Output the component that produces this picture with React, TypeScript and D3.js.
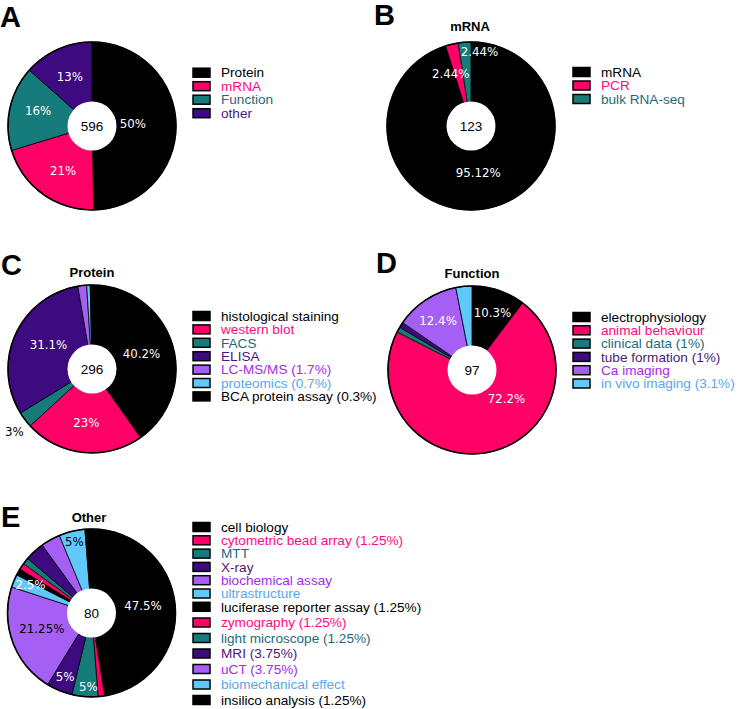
import React from "react";
import * as d3 from "d3";

// ---------- colours ----------
const BLACK = "#000000";
const PINK = "#FF0066";
const TEAL = "#167B7B";
const PURPLE = "#3E0A80";
const LILAC = "#A55FF5";
const SKY = "#61C9F9";
const T_BLACK = "#000000";
const T_PINK = "#FF0A80";
const T_TEAL = "#1D6B7A";
const T_PURPLE = "#4B1A75";
const T_LILAC = "#A62AE6";
const T_SKY = "#5AA6EE";

// ---------- Panel A ----------
const aCategories = ["Protein", "mRNA", "Function", "other"];
const aValues = [296, 123, 97, 80];
const aSliceLabels = ["50%", "21%", "16%", "13%"];
const aFills = [BLACK, PINK, TEAL, PURPLE];
const aTextColors = [T_BLACK, T_PINK, T_TEAL, T_PURPLE];

// ---------- Panel B ----------
const bCategories = ["mRNA", "PCR", "bulk RNA-seq"];
const bValues = [117, 3, 3];
const bSliceLabels = ["95.12%", "2.44%", "2.44%"];
const bFills = [BLACK, PINK, TEAL];
const bTextColors = [T_BLACK, T_PINK, T_TEAL];

// ---------- Panel C ----------
const cCategories = [
  "histological staining",
  "western blot",
  "FACS",
  "ELISA",
  "LC-MS/MS (1.7%)",
  "proteomics (0.7%)",
  "BCA protein assay (0.3%)",
];
const cValues = [119, 68, 9, 92, 5, 2, 1];
const cSliceLabels = ["40.2%", "23%", "3%", "31.1%", "", "", ""];
const cFills = [BLACK, PINK, TEAL, PURPLE, LILAC, SKY, BLACK];
const cTextColors = [T_BLACK, T_PINK, T_TEAL, T_PURPLE, T_LILAC, T_SKY, T_BLACK];

// ---------- Panel D ----------
const dCategories = [
  "electrophysiology",
  "animal behaviour",
  "clinical data (1%)",
  "tube formation (1%)",
  "Ca imaging",
  "in vivo imaging (3.1%)",
];
const dValues = [10, 70, 1, 1, 12, 3];
const dSliceLabels = ["10.3%", "72.2%", "", "", "12.4%", ""];
const dFills = [BLACK, PINK, TEAL, PURPLE, LILAC, SKY];
const dTextColors = [T_BLACK, T_PINK, T_TEAL, T_PURPLE, T_LILAC, T_SKY];

// ---------- Panel E ----------
const eCategories = [
  "cell biology",
  "cytometric bead array (1.25%)",
  "MTT",
  "X-ray",
  "biochemical assay",
  "ultrastructure",
  "luciferase reporter assay (1.25%)",
  "zymography (1.25%)",
  "light microscope (1.25%)",
  "MRI (3.75%)",
  "uCT (3.75%)",
  "biomechanical effect",
  "insilico analysis (1.25%)",
];
const eValues = [38, 1, 4, 4, 17, 2, 1, 1, 1, 3, 3, 4, 1];
const eSliceLabels = ["47.5%", "", "5%", "5%", "21.25%", "2.5%", "", "", "", "", "", "5%", ""];
const eFills = [BLACK, PINK, TEAL, PURPLE, LILAC, SKY, BLACK, PINK, TEAL, PURPLE, LILAC, SKY, BLACK];
const eTextColors = [
  T_BLACK, T_PINK, T_TEAL, T_PURPLE, T_LILAC, T_SKY,
  T_BLACK, T_PINK, T_TEAL, T_PURPLE, T_LILAC, T_SKY, T_BLACK,
];

// ---------- layout ----------
const R = 84;
const HOLE = 24.5;

type LabelPlace = { r: number; dAngle?: number; color?: string };

interface PieProps {
  cx: number;
  cy: number;
  values: number[];
  fills: string[];
  sliceLabels: string[];
  place: (LabelPlace | null)[];
}

function Pie({ cx, cy, values, fills, sliceLabels, place }: PieProps) {
  const arcs = d3.pie<number>().sort(null).value((d) => d)(values);
  const arcGen = d3.arc<d3.PieArcDatum<number>>().innerRadius(0).outerRadius(R);
  const total = d3.sum(values);
  return (
    <g transform={`translate(${cx},${cy})`}>
      {arcs.map((a, i) => (
        <path key={i} d={arcGen(a) || ""} fill={fills[i]} stroke="#000" strokeWidth={0.8} />
      ))}
      <circle r={R} fill="none" stroke="#000" strokeWidth={1.6} />
      <circle r={HOLE} fill="#fff" />
      <text
        textAnchor="middle"
        dy="0.36em"
        fontFamily="'Liberation Sans', Arial, sans-serif"
        fontSize={13.5}
        fill="#000"
      >
        {total}
      </text>
      {arcs.map((a, i) => {
        const p = place[i];
        if (!p || !sliceLabels[i]) return null;
        const ang = (a.startAngle + a.endAngle) / 2 + ((p.dAngle || 0) * Math.PI) / 180;
        const x = p.r * Math.sin(ang);
        const y = -p.r * Math.cos(ang);
        return (
          <text
            key={"l" + i}
            x={x}
            y={y}
            dy="0.36em"
            textAnchor="middle"
            fontFamily="'DejaVu Sans', Verdana, sans-serif"
            fontSize={11.8}
            fill={p.color || "#fff"}
          >
            {sliceLabels[i]}
          </text>
        );
      })}
    </g>
  );
}

interface LegendProps {
  x: number;
  rows: number[];
  categories: string[];
  fills: string[];
  textColors: string[];
}

function Legend({ x, rows, categories, fills, textColors }: LegendProps) {
  return (
    <g>
      {categories.map((c, i) => (
        <g key={i} transform={`translate(${x},${rows[i]})`}>
          <rect x={0} y={-4.5} width={17} height={9} fill={fills[i]} stroke="#000" strokeWidth={1.5} />
          <text
            x={28}
            y={0}
            dy="0.35em"
            fontFamily="'Liberation Sans', Arial, sans-serif"
            fontSize={13.6}
            fill={textColors[i]}
          >
            {c}
          </text>
        </g>
      ))}
    </g>
  );
}

const rowsFrom = (start: number, step: number, n: number) => d3.range(n).map((i) => start + step * i);

function PanelLetter({ x, y, t }: { x: number; y: number; t: string }) {
  return (
    <text x={x} y={y} fontFamily="'Liberation Sans', Arial, sans-serif" fontWeight="bold" fontSize={29}>
      {t}
    </text>
  );
}

function Title({ x, y, t }: { x: number; y: number; t: string }) {
  return (
    <text x={x} y={y} textAnchor="middle" fontFamily="'Liberation Sans', Arial, sans-serif" fontWeight="bold" fontSize={13}>
      {t}
    </text>
  );
}

export default function App() {
  const eRows = d3.range(eCategories.length).map((i) => (i <= 6 ? 527 + 13.3 * i : 607 + 15.5 * (i - 6)));
  return (
    <svg
      width={739}
      height={709}
      style={{ position: "absolute", left: 0, top: 0, background: "#fff" }}
    >
      {/* A */}
      <PanelLetter x={0} y={27} t="A" />
      <Pie
        cx={92}
        cy={126}
        values={aValues}
        fills={aFills}
        sliceLabels={aSliceLabels}
        place={[{ r: 41, dAngle: -2 }, { r: 53, dAngle: -3 }, { r: 56, dAngle: 3 }, { r: 54 }]}
      />
      <Legend x={193} rows={rowsFrom(72.7, 13.5, 4)} categories={aCategories} fills={aFills} textColors={aTextColors} />

      {/* B */}
      <PanelLetter x={374} y={25} t="B" />
      <Title x={470} y={31} t="mRNA" />
      <Pie
        cx={471}
        cy={126}
        values={bValues}
        fills={bFills}
        sliceLabels={bSliceLabels}
        place={[{ r: 47 }, { r: 56, dAngle: -8 }, { r: 74.5, dAngle: 11 }]}
      />
      <Legend x={573} rows={rowsFrom(72, 13.5, 3)} categories={bCategories} fills={bFills} textColors={bTextColors} />

      {/* C */}
      <PanelLetter x={1} y={275} t="C" />
      <Title x={92} y={277} t="Protein" />
      <Pie
        cx={92}
        cy={369}
        values={cValues}
        fills={cFills}
        sliceLabels={cSliceLabels}
        place={[{ r: 52 }, { r: 54 }, { r: 100, dAngle: -2, color: "#000" }, { r: 50, dAngle: 5 }, null, null, null]}
      />
      <Legend x={193} rows={rowsFrom(316, 13.4, 7)} categories={cCategories} fills={cFills} textColors={cTextColors} />

      {/* D */}
      <PanelLetter x={376} y={273} t="D" />
      <Title x={472} y={278} t="Function" />
      <Pie
        cx={472}
        cy={370}
        values={dValues}
        fills={dFills}
        sliceLabels={dSliceLabels}
        place={[{ r: 61, dAngle: 1 }, { r: 45, dAngle: -37 }, null, null, { r: 60, dAngle: -1 }, null]}
      />
      <Legend x={573} rows={rowsFrom(317, 13.3, 6)} categories={dCategories} fills={dFills} textColors={dTextColors} />

      {/* E */}
      <PanelLetter x={1} y={527} t="E" />
      <Title x={89} y={522} t="Other" />
      <Pie
        cx={91.5}
        cy={613}
        values={eValues}
        fills={eFills}
        sliceLabels={eSliceLabels}
        place={[
          { r: 52, dAngle: -4 },
          null,
          { r: 74, dAngle: -2 },
          { r: 69 },
          { r: 52, dAngle: 3, color: "#000" },
          { r: 67, dAngle: 2 },
          null,
          null,
          null,
          null,
          null,
          { r: 73, color: "#000" },
          null,
        ]}
      />
      <Legend x={193} rows={eRows} categories={eCategories} fills={eFills} textColors={eTextColors} />
    </svg>
  );
}
